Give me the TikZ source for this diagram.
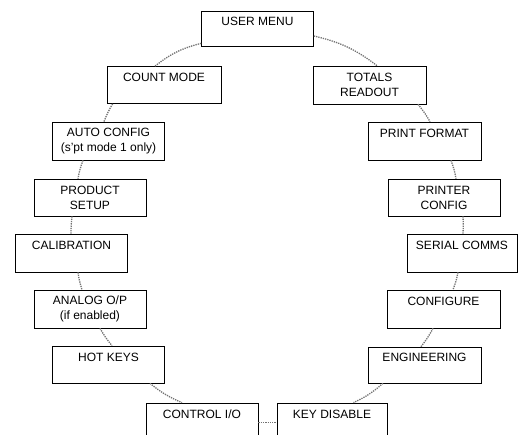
\documentclass[tikz,border=0pt]{standalone}
\usepackage{fontspec}
\setmainfont{Liberation Sans}

\begin{document}
\begin{tikzpicture}[
       x=1pt, y=-1pt,
       menu/.style={
         draw,
         rectangle,
         line width=0.7pt,
         align=center,
         minimum width=112pt,
         minimum height=37pt,
         font=\fontsize{12}{15}\selectfont
       },
       oneline/.style={
         text height=9pt,
         text depth=15pt
       },
       link/.style={
         densely dotted,
         line width=1.3pt,
         gray!90!black
       }
     ]

       \useasboundingbox (0,0) rectangle (523,435);
       \clip (0,0) rectangle (523,435);

       \node (um) at (257.5,28.5) [menu,oneline,minimum height=35pt]{USER MENU};
       \node (cm) at (164,85) [menu,oneline,minimum width=114pt]{COUNT MODE};
       \node (ac) at (108.5,141) [menu,minimum height=38pt]{AUTO CONFIG\\(s'pt mode 1 only)};
       \node (ps) at (90,197.5) [menu]{PRODUCT\\SETUP};
       \node (cal) at (71.5,253) [menu,oneline,minimum height=38pt]{CALIBRATION};
       \node (an) at (90,309) [menu,minimum height=38pt]{ANALOG O/P\\(if enabled)};
       \node (hk) at (108.5,364.5) [menu,oneline]{HOT KEYS};
       \node (ci) at (202,421.5) [menu,oneline]{CONTROL I/O};

       \node (tr) at (369.5,85) [menu,minimum width=113pt,minimum height=38pt]{TOTALS\\READOUT};
       \node (pf) at (424.5,141) [menu,oneline,minimum width=113pt,minimum height=38pt]{PRINT FORMAT};
       \node (pc) at (444,197.5) [menu]{PRINTER\\CONFIG};
       \node (sc) at (462,253) [menu,oneline,minimum width=110pt,minimum height=38pt]{SERIAL COMMS};
       \node (cf) at (443.5,309) [menu,oneline,minimum width=113pt,minimum height=38pt]{CONFIGURE};
       \node (en) at (424.5,365) [menu,oneline,minimum width=113pt,minimum height=36pt]{ENGINEERING};
       \node (kd) at (332,421.5) [menu,oneline,minimum width=110pt]{KEY DISABLE};

       % left side
       \draw[link] ([yshift=3pt]um.south west) to[bend right=12] ([xshift=-9pt]cm.north);
       \draw[link] ([xshift=6pt]cm.south west) to[bend right=5] ([xshift=-4.5pt]ac.north);
       \draw[link] ([xshift=-25.5pt]ac.south) to[bend right=5] ([xshift=-12pt]ps.north);
       \draw[link] ([xshift=-18pt]ps.south) to[bend right=3] ([xshift=-0.5pt]cal.north);
       \draw[link] ([xshift=6.5pt]cal.south) to[bend right=5] ([xshift=-8pt]an.north);
       \draw[link] ([xshift=10pt]an.south) to[bend right=5] ([xshift=3.5pt]hk.north);
       \draw[link] ([xshift=41.5pt]hk.south) to[bend right=8] ([xshift=-20pt]ci.north);
       \draw[link] ([yshift=-1pt]ci.east) -- ([yshift=-1pt]kd.west);

       % right side
       \draw[link] ([yshift=-7.5pt]um.east) to[bend left=12] ([xshift=7.5pt]tr.north);
       \draw[link] ([xshift=48.5pt]tr.south) to[bend left=5] ([xshift=5.5pt]pf.north);
       \draw[link] ([xshift=26.5pt]pf.south) to[bend left=5] ([xshift=12pt]pc.north);
       \draw[link] ([xshift=19pt]pc.south) to[bend left=3] ([xshift=1pt]sc.north);
       \draw[link] ([xshift=-4pt]sc.south) to[bend left=5] ([xshift=9.5pt]cf.north);
       \draw[link] ([xshift=-10.5pt]cf.south) to[bend left=5] ([xshift=-3.5pt]en.north);
       \draw[link] ([xshift=-41.5pt]en.south) to[bend left=8] ([xshift=21.5pt]kd.north);

\end{tikzpicture}
\end{document}
